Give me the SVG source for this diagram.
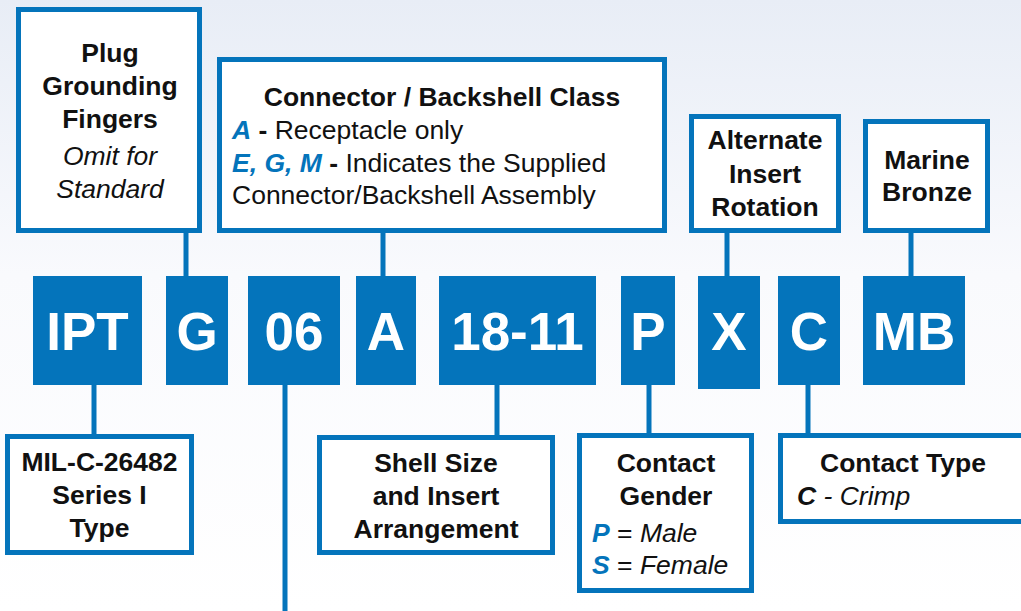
<svg xmlns="http://www.w3.org/2000/svg" width="1021" height="611" viewBox="0 0 1021 611">
<defs>
<linearGradient id="bg" x1="0" y1="0" x2="0" y2="1">
<stop offset="0" stop-color="#e8edf6"/>
<stop offset="0.45" stop-color="#f9fafd"/>
<stop offset="1" stop-color="#ffffff"/>
</linearGradient>
<style>
.box{fill:#ffffff;stroke:#0474bb;stroke-width:5}
.code{fill:#0474bb}
.ct{font-family:"Liberation Sans",Arial,sans-serif;font-weight:bold;font-size:53px;fill:#ffffff;text-anchor:middle}
.b{font-family:"Liberation Sans",Arial,sans-serif;font-weight:bold;font-size:26.5px;fill:#111111}
.c{text-anchor:middle}
.r{font-family:"Liberation Sans",Arial,sans-serif;font-size:26.5px;fill:#111111}
.i{font-style:italic}
.bl{fill:#0474bb;font-weight:bold;font-style:italic}
.bk{font-weight:bold}
.conn line{stroke:#0474bb;stroke-width:5}
</style>
</defs>
<rect x="0" y="0" width="1021" height="611" fill="url(#bg)"/>

<g class="conn" id="connectors">
<line x1="186" y1="231" x2="186" y2="277"/>
<line x1="383" y1="231" x2="383" y2="277"/>
<line x1="727" y1="231" x2="727" y2="277"/>
<line x1="911" y1="231" x2="911" y2="277"/>
<line x1="94" y1="384" x2="94" y2="437"/>
<line x1="285" y1="384" x2="285" y2="611"/>
<line x1="497" y1="384" x2="497" y2="438"/>
<line x1="649" y1="384" x2="649" y2="436"/>
<line x1="808" y1="384" x2="808" y2="436"/>
</g>

<g id="code-IPT"><rect class="code" x="33" y="276" width="109" height="109"/><text class="ct" x="87.5" y="350">IPT</text></g>
<g id="code-G"><rect class="code" x="166" y="276" width="62" height="109"/><text class="ct" x="197" y="350">G</text></g>
<g id="code-06"><rect class="code" x="248" y="276" width="92" height="109"/><text class="ct" x="294" y="350">06</text></g>
<g id="code-A"><rect class="code" x="356" y="276" width="60" height="109"/><text class="ct" x="386" y="350">A</text></g>
<g id="code-18-11"><rect class="code" x="439" y="276" width="157" height="109"/><text class="ct" x="517.5" y="350">18-11</text></g>
<g id="code-P"><rect class="code" x="621" y="276" width="54" height="109"/><text class="ct" x="648" y="350">P</text></g>
<g id="code-X"><rect class="code" x="698" y="276" width="62" height="113"/><text class="ct" x="729" y="350">X</text></g>
<g id="code-C"><rect class="code" x="778" y="276" width="62" height="109"/><text class="ct" x="809" y="350">C</text></g>
<g id="code-MB"><rect class="code" x="863" y="276" width="102" height="109"/><text class="ct" x="914" y="350">MB</text></g>

<g id="box-plug">
<rect class="box" x="18.5" y="9.5" width="181" height="221"/>
<text class="b c" x="110" y="62">Plug</text>
<text class="b c" x="110" y="95">Grounding</text>
<text class="b c" x="110" y="128">Fingers</text>
<text class="r c i" x="110" y="165">Omit for</text>
<text class="r c i" x="110" y="198">Standard</text>
</g>

<g id="box-class">
<rect class="box" x="219.5" y="59.5" width="445" height="171"/>
<text class="b c" x="442" y="106">Connector / Backshell Class</text>
<text class="r" x="232" y="139"><tspan class="bl">A</tspan><tspan class="bk"> - </tspan>Receptacle only</text>
<text class="r" x="232" y="172"><tspan class="bl">E, G, M</tspan><tspan class="bk"> - </tspan>Indicates the Supplied</text>
<text class="r" x="232" y="204">Connector/Backshell Assembly</text>
</g>

<g id="box-rotation">
<rect class="box" x="691.5" y="116.5" width="147" height="114"/>
<text class="b c" x="765" y="149">Alternate</text>
<text class="b c" x="765" y="183">Insert</text>
<text class="b c" x="765" y="216">Rotation</text>
</g>

<g id="box-marine">
<rect class="box" x="865.5" y="121.5" width="122" height="109"/>
<text class="b c" x="927" y="169">Marine</text>
<text class="b c" x="927" y="201">Bronze</text>
</g>

<g id="box-mil">
<rect class="box" x="7.5" y="436.5" width="184" height="116"/>
<text class="b c" x="99.5" y="471">MIL-C-26482</text>
<text class="b c" x="99.5" y="504">Series I</text>
<text class="b c" x="99.5" y="537">Type</text>
</g>

<g id="box-shell">
<rect class="box" x="319.5" y="437.5" width="233" height="115"/>
<text class="b c" x="436" y="472">Shell Size</text>
<text class="b c" x="436" y="505">and Insert</text>
<text class="b c" x="436" y="538">Arrangement</text>
</g>

<g id="box-gender">
<rect class="box" x="579.5" y="435.5" width="172" height="155"/>
<text class="b c" x="666" y="472">Contact</text>
<text class="b c" x="666" y="505">Gender</text>
<text class="r" x="592" y="542"><tspan class="bl">P</tspan> = <tspan class="i">Male</tspan></text>
<text class="r" x="592" y="574"><tspan class="bl">S</tspan> = <tspan class="i">Female</tspan></text>
</g>

<g id="box-type">
<rect class="box" x="780.5" y="435.5" width="250" height="86"/>
<text class="b c" x="903" y="472">Contact Type</text>
<text class="r i" x="797" y="505"><tspan class="bk">C</tspan> - Crimp</text>
</g>
</svg>
